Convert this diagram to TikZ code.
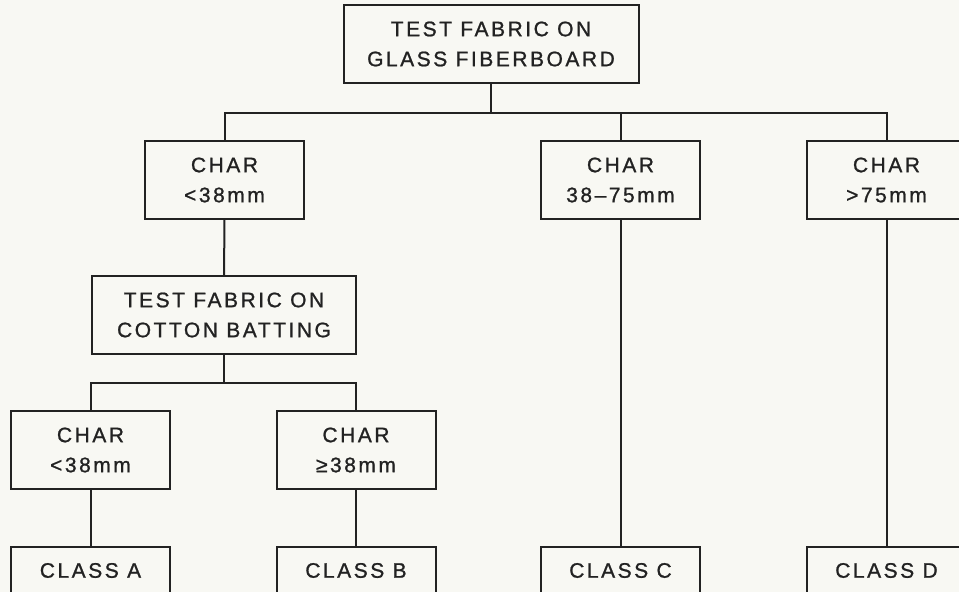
\documentclass[tikz,border=0pt]{standalone}
\usepackage{fontspec}
\setmainfont{Liberation Sans}[LetterSpace=12, FakeBold=1]
\definecolor{paper}{RGB}{248,248,243}
\definecolor{ink}{RGB}{34,34,34}
\begin{document}
\begin{tikzpicture}[x=1pt, y=-1pt, line width=2pt, color=ink,
	box/.style={draw, rectangle, minimum height=78pt, minimum width=159pt, inner sep=0pt, 
	text centered, align=center, font=\fontsize{21pt}{30pt}\selectfont}]
		\useasboundingbox (0,0) rectangle (959,592);
		\fill[paper] (0,0) rectangle (959,592);
		\clip (0,0) rectangle (959,592);
		
		\node (Glass Test) at (491,44) [box, minimum width=295pt]{TEST FABRIC ON\\GLASS FIBERBOARD};
		\node (Char Low) at (224.5,180) [box]{CHAR\\<38mm};
		\node (Char Mid) at (620.5,180) [box]{CHAR\\38--75mm};
		\node (Char High) at (886.5,180) [box]{CHAR\\>75mm};
		
		\node (Cotton Test) at (224,315) [box, minimum width=264pt]{TEST FABRIC ON\\COTTON BATTING};
		\node (Char Lower) at (90.5,450) [box]{CHAR\\<38mm};
		\node (Char Higher) at (356,450) [box]{CHAR\\≥38mm};
		
		\node (Class A) at (90.5,570.5) [box, minimum height=47pt]{CLASS A};
		\node (Class B) at (356,570.5) [box, minimum height=47pt]{CLASS B};
		\node (Class C) at (620.5,570.5) [box, minimum height=47pt]{CLASS C};
		\node (Class D) at (886.5,570.5) [box, minimum height=47pt]{CLASS D};
		
		\coordinate (Top Bus) at (491,113);
		\coordinate (Cotton Bus) at (224,383);
		
		\draw (Glass Test) -- (Top Bus);
		\draw (Char Low.north) |- (Top Bus) -| (Char High.north);
		\draw (Char Mid) -- (Char Mid |- Top Bus);
		\draw (Char Low) -- (Cotton Test);
		\draw (Cotton Test) -- (Cotton Bus);
		\draw (Char Lower.north) |- (Cotton Bus) -| (Char Higher.north);
		
		\draw (Char Lower) -- (Class A);
		\draw (Char Higher) -- (Class B);
		\draw (Char Mid) -- (Class C);
		\draw (Char High) -- (Class D);
\end{tikzpicture}
\end{document}
